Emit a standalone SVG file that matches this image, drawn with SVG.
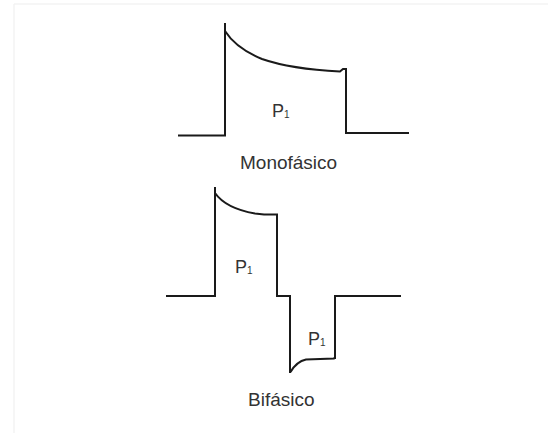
<svg xmlns="http://www.w3.org/2000/svg" width="548" height="433" viewBox="0 0 548 433">
<style>
.w{fill:none;stroke:#1a1a1a;stroke-width:2;stroke-linejoin:miter;stroke-linecap:butt}
.t{font-family:"Liberation Sans",Arial,sans-serif;fill:#333;font-size:19px}
.p{font-size:18px}
.s{font-size:10px}
</style>
<rect x="0" y="0" width="548" height="433" fill="#fff"/>
<path d="M14 4 H548 M14 4 V433" fill="none" stroke="#f3f3f3" stroke-width="1.5"/>
<g id="monofasico">
<path class="w" d="M178 135.5 H225 V23 M225 31 C232 42 245 52 262 59 C285 67 310 70 340 71.5 L343 69 H346 V133 H409"/>
<text class="t p" x="272" y="117">P<tspan class="s" dy="1">1</tspan></text>
<text class="t" x="240" y="169">Monofásico</text>
</g>
<g id="bifasico">
<path class="w" d="M166 296 H215 V187 M215 193 C222 203 235 210 255 213.5 L264 214.5 H277 V296 H290 V373 M290.5 372 C294 366 299 361 306 359.5 L334 358.5 L335 357 M335 359 V296 H401"/>
<text class="t p" x="235" y="273">P<tspan class="s" dy="1">1</tspan></text>
<text class="t p" x="308" y="345">P<tspan class="s" dy="1">1</tspan></text>
<text class="t" x="248" y="406">Bifásico</text>
</g>
</svg>
